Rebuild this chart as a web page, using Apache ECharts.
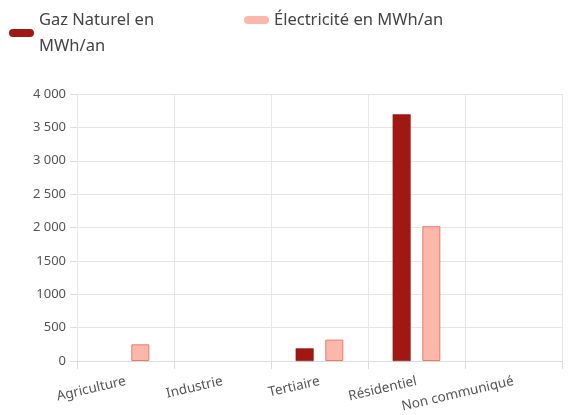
<!DOCTYPE html>
<html>
<head>
<meta charset="utf-8">
<script src="https://cdn.jsdelivr.net/npm/echarts@6/dist/echarts.min.js"></script>
<style>
  html, body { margin: 0; padding: 0; background: #fff; }
  #chart { width: 571px; height: 415px; }
</style>
</head>
<body>
<div id="chart"></div>
<script>
// Consommation d'énergie par secteur
const categories = ['Agriculture', 'Industrie', 'Tertiaire', 'Résidentiel', 'Non communiqué'];
const gazValues = [0, 0, 190, 3695, 0];
const elecValues = [250, 0, 320, 2020, 0];
const yTickLabels = { 0: '0', 500: '500', 1000: '1000', 1500: '1500', 2000: '2 000', 2500: '2 500', 3000: '3 000', 3500: '3 500', 4000: '4 000' };

const gazName = 'Gaz Naturel en MWh/an';
const elecName = 'Électricité en MWh/an';
const FONT = 'Noto Sans';

// empty sectors get no bar at all
const toBars = arr => arr.map(v => (v === 0 ? null : v));

const chart = echarts.init(document.getElementById('chart'), null, { renderer: 'canvas' });

const legendText = { fontFamily: FONT, fontSize: 16.5, color: '#444', lineHeight: 26 };
const legendIcon = 'path://M4,0 L21,0 A4,4 0 0 1 21,8 L4,8 A4,4 0 0 1 4,0 Z';

chart.setOption({
  animation: false,
  textStyle: { fontFamily: FONT },
  legend: [
    {
      data: [gazName], left: 4, top: 2, itemWidth: 25, itemHeight: 9,
      icon: legendIcon, itemGap: 6,
      itemStyle: { borderWidth: 0 },
      formatter: () => 'Gaz Naturel en\nMWh/an',
      textStyle: legendText
    },
    {
      data: [elecName], left: 239, top: 2, itemWidth: 25, itemHeight: 9,
      icon: legendIcon,
      itemStyle: { borderWidth: 0 },
      textStyle: legendText
    }
  ],
  grid: { left: 77, right: 9, top: 94, bottom: 54, containLabel: false },
  xAxis: {
    type: 'category',
    data: categories,
    boundaryGap: true,
    axisLine: { show: true, lineStyle: { color: '#dcdcdc' } },
    axisTick: { show: true, length: 8, lineStyle: { color: '#dcdcdc' } },
    splitLine: { show: true, lineStyle: { color: '#e6e6e6' } },
    axisLabel: { rotate: 13, color: '#555', fontSize: 13.5, fontFamily: FONT, margin: 20, interval: 0 }
  },
  yAxis: {
    type: 'value',
    min: 0, max: 4000, interval: 500,
    axisLine: { show: false },
    axisTick: { show: true, length: 7, lineStyle: { color: '#dcdcdc' } },
    splitLine: { show: true, lineStyle: { color: '#e6e6e6' } },
    axisLabel: { color: '#555', fontSize: 13, fontFamily: FONT, margin: 11, formatter: v => yTickLabels[v] }
  },
  series: [
    {
      name: gazName, type: 'bar', data: toBars(gazValues), barWidth: 18, barGap: '65%',
      itemStyle: { color: '#a11713', borderColor: '#8c1410', borderWidth: 0.5 }
    },
    {
      name: elecName, type: 'bar', data: toBars(elecValues), barWidth: 18,
      itemStyle: { color: '#fbb8aa', borderColor: '#ec7866', borderWidth: 1 }
    }
  ]
});
</script>
</body>
</html>
